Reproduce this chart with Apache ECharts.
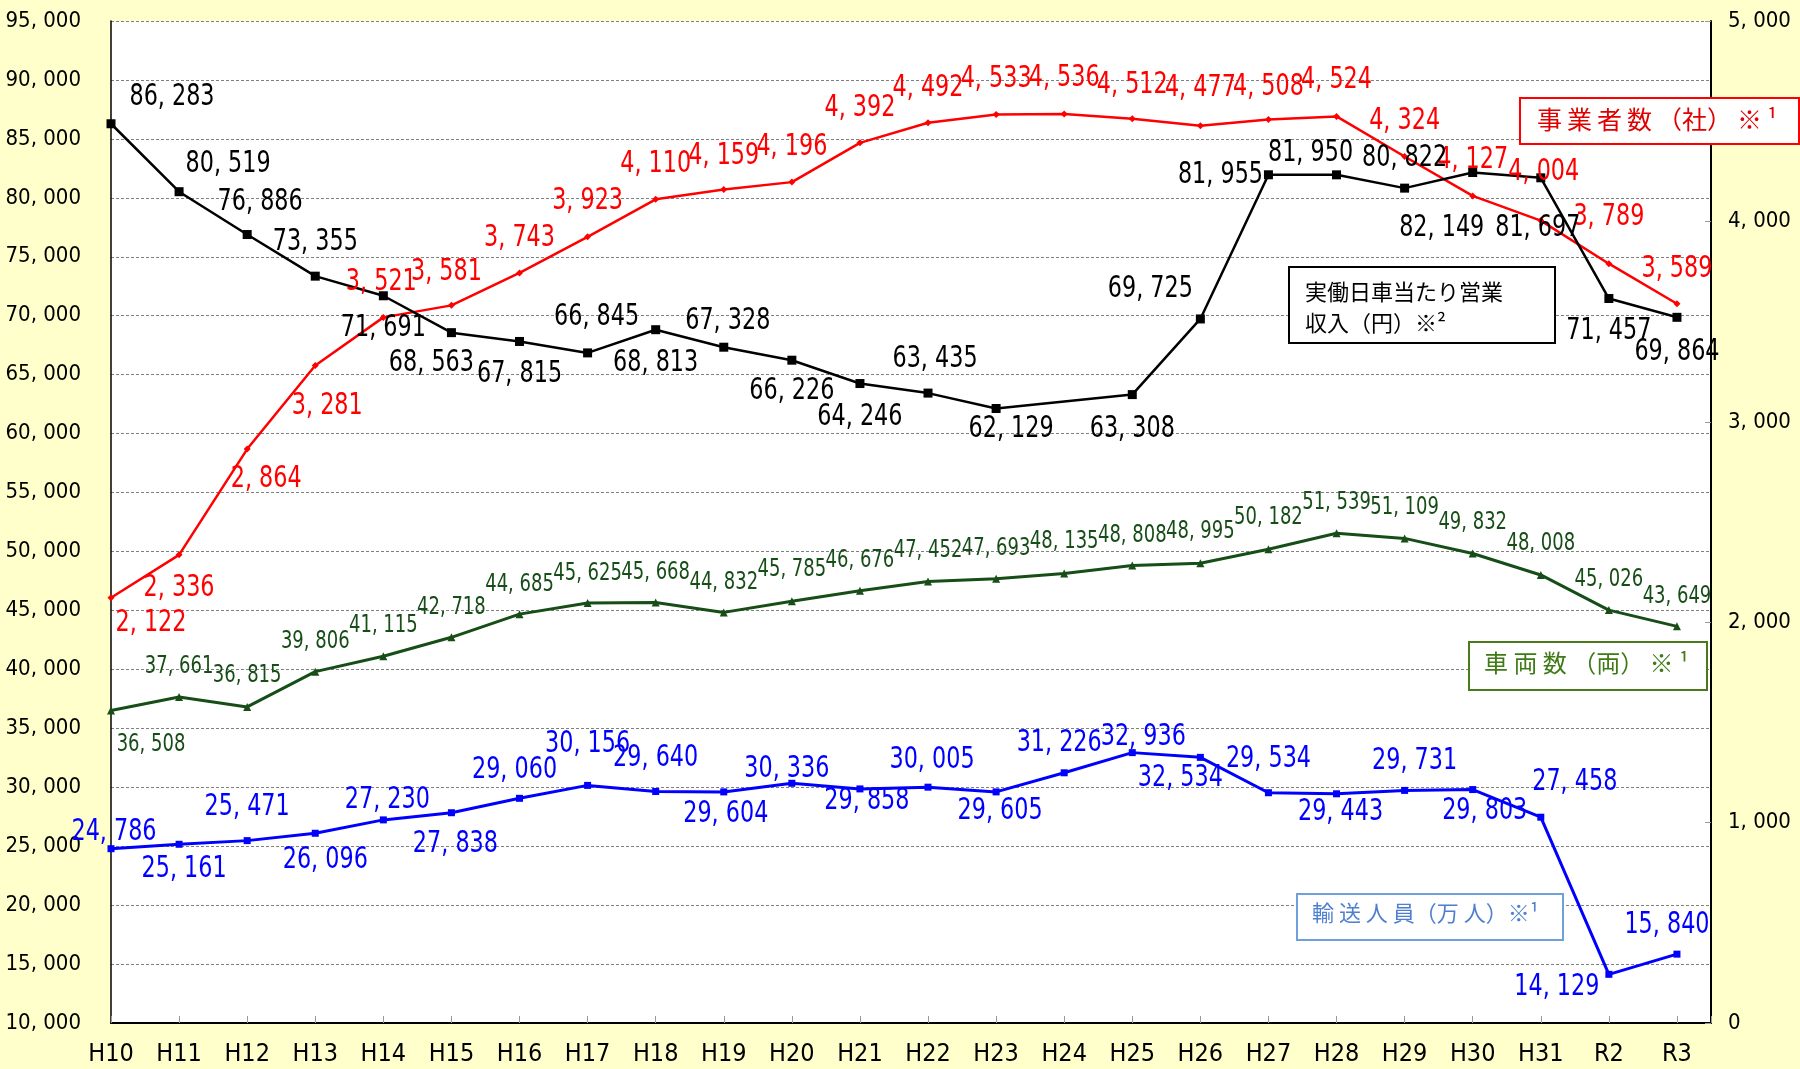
<!DOCTYPE html>
<html><head><meta charset="utf-8">
<script src="https://cdn.jsdelivr.net/npm/echarts@6/dist/echarts.min.js"></script>
<style>html,body{margin:0;padding:0;background:#FFFFCC;}#c{width:1800px;height:1069px;}</style>
</head><body><div id="c"></div>
<script>
const categories = ['H10','H11','H12','H13','H14','H15','H16','H17','H18','H19','H20','H21','H22','H23','H24','H25','H26','H27','H28','H29','H30','H31','R2','R3'];
// 実働日車当たり営業収入（円）  (H24 not shown)
const revenue = [86283, 80519, 76886, 73355, 71691, 68563, 67815, 66845, 68813, 67328, 66226, 64246, 63435, 62129, null, 63308, 69725, 81955, 81950, 80822, 82149, 81697, 71457, 69864];
// 事業者数（社）
const operators = [2122, 2336, 2864, 3281, 3521, 3581, 3743, 3923, 4110, 4159, 4196, 4392, 4492, 4533, 4536, 4512, 4477, 4508, 4524, 4324, 4127, 4004, 3789, 3589];
// 車両数（両）
const vehicles = [36508, 37661, 36815, 39806, 41115, 42718, 44685, 45625, 45668, 44832, 45785, 46676, 47452, 47693, 48135, 48808, 48995, 50182, 51539, 51109, 49832, 48008, 45026, 43649];
// 輸送人員（万人）
const passengers = [24786, 25161, 25471, 26096, 27230, 27838, 29060, 30156, 29640, 29604, 30336, 29858, 30005, 29605, 31226, 32936, 32534, 29534, 29443, 29731, 29803, 27458, 14129, 15840];
const leftAxis = {min: 10000, max: 95000, interval: 5000};
const rightAxis = {min: 0, max: 5000, interval: 1000};

// label placement (style only)
const offRevenue = [[61,-27],[49,-28],[13,-33],[0,-34],[0,32],[-20,30],[0,32],[9,-36],[0,33],[4,-26],[0,31],[0,33],[7,-34],[15,20],null,[0,34],[-50,-30],[-48,0],[-26,-22],[0,-30],[-31,55],[-3,50],[0,32],[0,35]];
const offOperators = [[40,25],[0,33],[19,30],[12,40],[-2,-35],[-5,-33],[0,-35],[0,-36],[0,-35],[0,-34],[0,-35],[0,-35],[0,-35],[0,-36],[0,-36],[0,-34],[0,-38],[0,-33],[0,-36],[0,-36],[0,-36],[3,-49],[0,-47],[0,-35]];
const offVehicles = [[40,34],[0,-30],[0,-31],[0,-30],[0,-31],[0,-30],[0,-30],[0,-30],[0,-30],[0,-30],[0,-32],[0,-30],[0,-31],[0,-30],[0,-32],[0,-30],[0,-32],[0,-32],[0,-31],[0,-31],[0,-31],[0,-31],[0,-31],[0,-30]];
const offPassengers = [[3,-17],[5,25],[0,-34],[10,27],[4,-20],[4,31],[-5,-28],[0,-41],[0,-34],[2,22],[-5,-14],[7,12],[4,-27],[4,19],[-5,-30],[11,-16],[-20,21],[0,-34],[4,18],[10,-29],[12,21],[34,-35],[-52,13],[-10,-29]];

const NARROW = "'DejaVu Sans Condensed','DejaVu Sans',sans-serif";
const JP = "'Noto Sans CJK JP',sans-serif";
const fmt = v => String(v).replace(/\B(?=(\d{3})+(?!\d))/g, ', ');
const pairs = vals => vals.map((v, i) => v == null ? null : [i, v]).filter(Boolean);

function lineSeries(name, vals, yIdx, color, symbol, size, lw, z) {
  return {
    name, type: 'line', yAxisIndex: yIdx, data: pairs(vals), z,
    symbol, symbolSize: size, showAllSymbol: true,
    lineStyle: {color, width: lw}, itemStyle: {color},
    label: {show: false}, emphasis: {disabled: true}
  };
}
function labelSeries(vals, offs, yIdx, color, fs) {
  return {
    type: 'custom', yAxisIndex: yIdx, data: pairs(vals), z: 20, clip: false, silent: true,
    renderItem: (params, api) => {
      const i = api.value(0), v = api.value(1);
      const pt = api.coord([i, v]);
      const o = offs[i] || [0, 0];
      return {type: 'text', x: pt[0] + o[0], y: pt[1] + o[1], scaleX: 0.8, scaleY: 1,
        style: {text: fmt(v), fill: color, font: fs + 'px ' + NARROW, align: 'center', verticalAlign: 'middle'}};
    }
  };
}

const chart = echarts.init(document.getElementById('c'), null, {renderer: 'canvas'});
chart.setOption({
  animation: false,
  backgroundColor: '#FFFFCC',
  grid: {left: 111, right: 89, top: 21, bottom: 46, containLabel: false, outerBoundsMode: 'none',
    show: true, backgroundColor: '#ffffff', borderWidth: 0},
  xAxis: {
    type: 'value', min: 0, max: 23.5, interval: 1,
    axisLine: {lineStyle: {color: '#000', width: 2}},
    axisTick: {inside: true, length: 7, lineStyle: {color: '#999'}},
    splitLine: {show: false},
    axisLabel: {margin: 19, fontSize: 25, color: '#000', fontFamily: NARROW,
      formatter: v => Number.isInteger(v) ? categories[v] : ''}
  },
  yAxis: [
    {type: 'value', position: 'left', min: leftAxis.min, max: leftAxis.max, interval: leftAxis.interval,
      axisLine: {show: true, lineStyle: {color: '#000', width: 1.5}}, axisTick: {show: false},
      axisLabel: {margin: 30, fontSize: 22, color: '#000', fontFamily: NARROW, formatter: v => fmt(v)},
      splitLine: {show: true, lineStyle: {color: '#808080', width: 1, type: [3, 2]}}},
    {type: 'value', position: 'right', min: rightAxis.min, max: rightAxis.max, interval: rightAxis.interval,
      axisLine: {show: true, lineStyle: {color: '#000', width: 2}},
      axisTick: {show: true, inside: true, length: 6, lineStyle: {color: '#999'}},
      axisLabel: {margin: 17, fontSize: 22, color: '#000', fontFamily: NARROW, formatter: v => fmt(v)},
      splitLine: {show: false}}
  ],
  series: [
    lineSeries('輸送人員（万人）', passengers, 0, '#0000FF', 'rect', 7, 3, 2),
    lineSeries('車両数（両）', vehicles, 0, '#174d17', 'triangle', 8, 3, 3),
    lineSeries('事業者数（社）', operators, 1, '#FF0000', 'diamond', 7, 2.5, 4),
    lineSeries('実働日車当たり営業収入（円）', revenue, 0, '#000000', 'rect', 9, 2.5, 5),
    labelSeries(passengers, offPassengers, 0, '#0000FF', 31),
    labelSeries(vehicles, offVehicles, 0, '#174d17', 25),
    labelSeries(operators, offOperators, 1, '#FF0000', 31),
    labelSeries(revenue, offRevenue, 0, '#000000', 31)
  ],
  graphic: [
    {type: 'rect', left: 1519, top: 97, z: 100, shape: {width: 279, height: 46},
      style: {fill: '#fff', stroke: '#FF0000', lineWidth: 2}},
    {type: 'text', left: 1537, top: 107, z: 101,
      style: {text: '事\u2009業\u2009者\u2009数\u2009（社）\u2009※\u2009¹', fill: '#E00000', font: '25px ' + JP}},
    {type: 'rect', left: 1288, top: 266, z: 100, shape: {width: 266, height: 76},
      style: {fill: '#fff', stroke: '#000', lineWidth: 2}},
    {type: 'text', left: 1305, top: 276, z: 101,
      style: {text: '実働日車当たり営業\n収入（円）※²', fill: '#000', font: '22px ' + JP, lineHeight: 31}},
    {type: 'rect', left: 1468, top: 641, z: 100, shape: {width: 238, height: 48},
      style: {fill: '#fff', stroke: '#4a7a1a', lineWidth: 2}},
    {type: 'text', left: 1484, top: 651, z: 101,
      style: {text: '車 両 数 （両） ※ ¹', fill: '#3f7a16', font: '24px ' + JP}},
    {type: 'rect', left: 1296, top: 893, z: 100, shape: {width: 266, height: 46},
      style: {fill: '#fff', stroke: '#6fa0dc', lineWidth: 2}},
    {type: 'text', left: 1312, top: 902, z: 101,
      style: {text: '輸 送 人 員（万 人）※¹', fill: '#4f7fd0', font: '22px ' + JP}}
  ]
});
</script></body></html>
